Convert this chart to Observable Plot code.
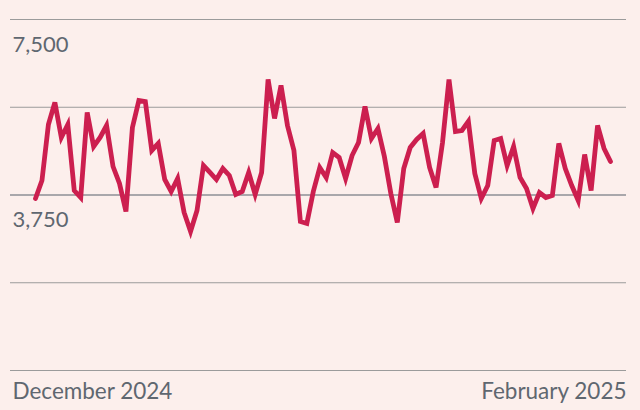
<!DOCTYPE html>
<html>
<head>
<meta charset="utf-8">
<script src="https://cdn.jsdelivr.net/npm/d3@7"></script>
<script src="https://cdn.jsdelivr.net/npm/@observablehq/plot@0.6"></script>
<style>
  html, body { margin: 0; padding: 0; background: #fcefec; }
  #chart svg { display: block; }
</style>
</head>
<body>
<div id="chart"></div>
<script>
// Daily values, 1 December 2024 – 28 February 2025
const startDate = "2024-12-01";
const values = [
  3675, 4060, 5257, 5727, 4979, 5257, 3846, 3697, 5513, 4786,
  4979, 5235, 4359, 3996, 3398, 5192, 5769, 5748, 4701, 4851,
  4081, 3825, 4103, 3376, 2970, 3419, 4380, 4231, 4081, 4316,
  4167, 3761, 3825, 4231, 3761, 4231, 6218, 5385, 6090, 5235,
  4701, 3184, 3141, 3825, 4338, 4124, 4658, 4551, 4103, 4594,
  4872, 5641, 4957, 5171, 4573, 3782, 3162, 4316, 4765, 4936,
  5064, 4338, 3910, 4872, 6218, 5107, 5128, 5321, 4209, 3675,
  3953, 4915, 4957, 4380, 4786, 4124, 3889, 3462, 3803, 3697,
  3739, 4851, 4316, 3953, 3633, 4615, 3846, 5235, 4744, 4466
];
const gridTicks = [0, 1875, 3750, 5625, 7500];
const yLabels = [3750, 7500];
const xLabels = ["December 2024", "February 2025"];

const t0 = new Date(startDate + "T00:00:00Z");
const data = values.map((v, i) => ({date: d3.utcDay.offset(t0, i), value: v}));

const font = "Lato, 'Noto Sans', sans-serif";
const textColor = "#5f6770";

const chart = Plot.plot({
  width: 640,
  height: 410,
  marginTop: 19,
  marginBottom: 40,
  marginLeft: 10,
  marginRight: 14,
  style: {background: "#fcefec", fontFamily: font},
  x: {type: "utc", domain: [data[0].date, data[data.length - 1].date], range: [35, 610], axis: null},
  y: {domain: [0, 7500], axis: null},
  marks: [
    Plot.ruleY(gridTicks, {stroke: d => d === 3750 ? "#56616b" : "#9b9b9b", strokeWidth: 1.2}),
    Plot.text(yLabels, {
      y: d => d, text: d => d3.format(",")(d),
      frameAnchor: "left", textAnchor: "start", dx: 2, dy: 25,
      fontSize: 22, fill: textColor
    }),
    Plot.text([xLabels[0]], {
      text: d => d, frameAnchor: "bottom-left", textAnchor: "start",
      dx: 2, dy: 28.5, fontSize: 22.5, fill: textColor
    }),
    Plot.text([xLabels[1]], {
      text: d => d, frameAnchor: "bottom-right", textAnchor: "end",
      dy: 28.5, fontSize: 22.5, fill: textColor
    }),
    Plot.line(data, {x: "date", y: "value", stroke: "#cc1f4f", strokeWidth: 4.8, strokeLinejoin: "miter", strokeMiterlimit: 4})
  ]
});
document.getElementById("chart").append(chart);
</script>
</body>
</html>
